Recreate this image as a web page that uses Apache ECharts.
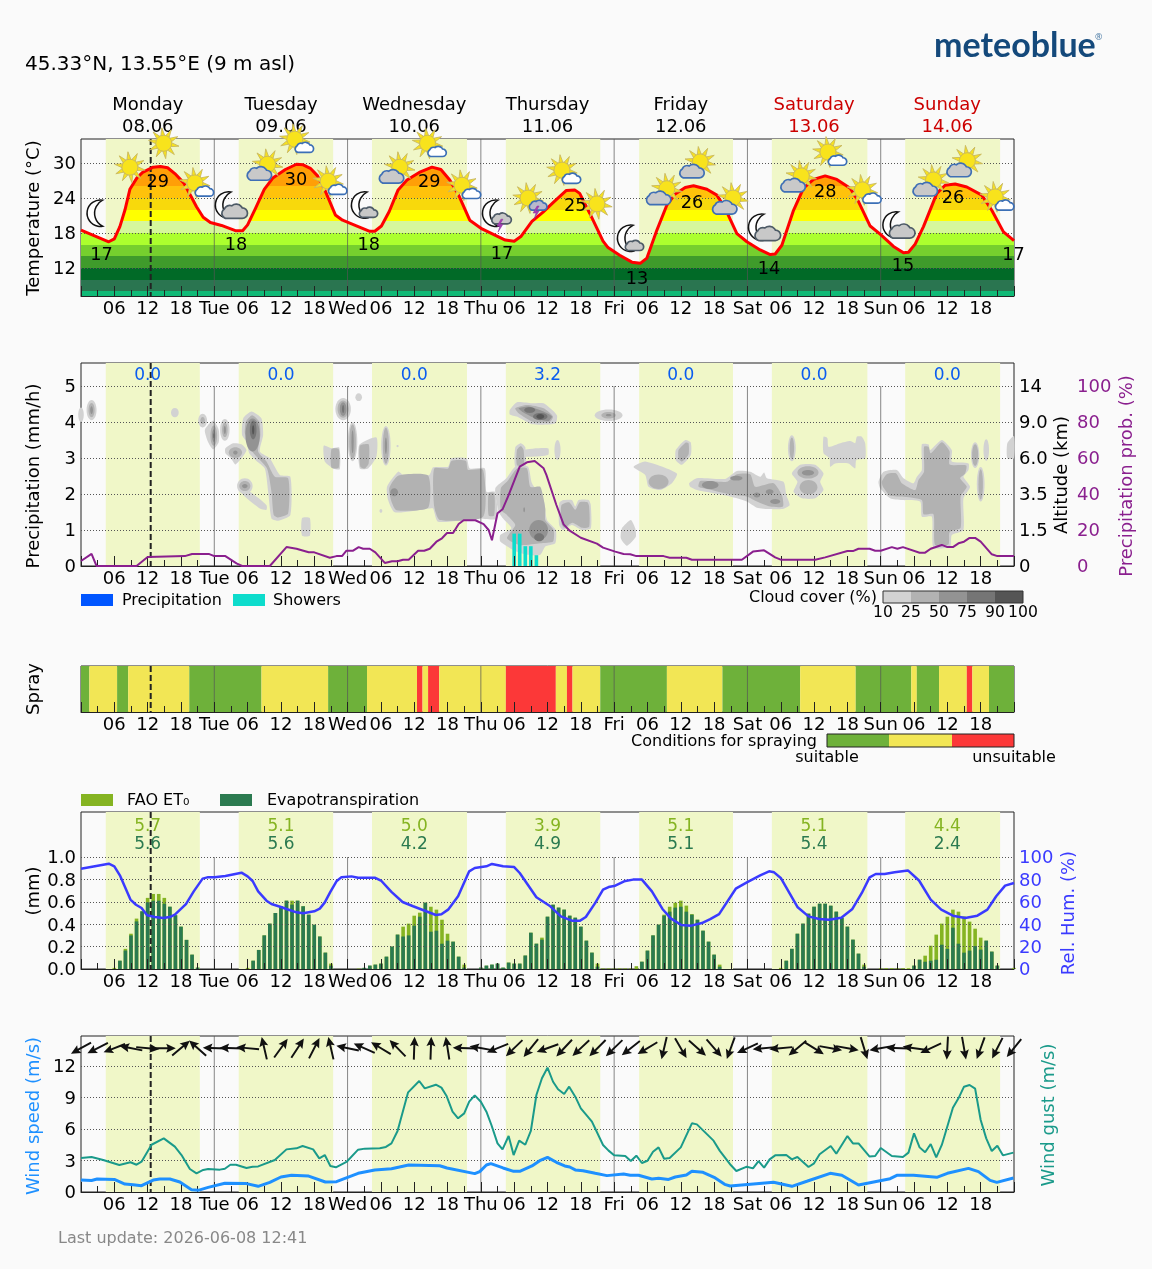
<!DOCTYPE html>
<html>
<head>
<meta charset="utf-8">
<title>meteoblue agriculture meteogram</title>
<style>
html,body{margin:0;padding:0;background:#fafafa}
#chart{width:1152px;height:1269px}
</style>
<script src="https://cdn.jsdelivr.net/npm/echarts@6/dist/echarts.min.js"></script>
</head>
<body>
<div id="chart"></div>
<script>
// ---- time axis ----
const dayNames = ['Monday','Tuesday','Wednesday','Thursday','Friday','Saturday','Sunday'];
const dayDates = ['08.06','09.06','10.06','11.06','12.06','13.06','14.06'];
const dayShort = ['Mon','Tue','Wed','Thu','Fri','Sat','Sun'];
const dayStarts = [24,48,72,96,120,144];
const nowHour = 12.55;
const daylightStart = [4.46,28.4,52.4,76.5,100.5,124.4,148.4];
const daylightEnd = [21.4,45.4,69.5,93.5,117.4,141.6,165.5];

// ---- temperature (hour, deg C) ----
const tempHours = [0,5,6,7,7.9,8.8,10.1,11.1,13,14.3,15.6,16.9,18.5,19.8,20.8,22,23.3,25.3,27.8,29.1,30,31.4,33,34.6,36.8,38.8,40,41.3,42.6,43.9,45.8,47.1,49.7,52,52.9,54.1,55.5,57.1,58.7,60.9,63.2,64.8,66.4,68,70,72.2,76.4,78,79.2,81.2,83.2,85,87.4,88.9,89.8,91.6,94,94.9,97,99.2,100.7,101.9,103.7,105.5,107,108.8,110.3,112.7,114.5,116,118.1,119.9,122.3,124.1,125,126.2,128.3,130.1,131.9,134,136.1,138.5,140,142.1,143.9,146.3,148.1,149,150.2,151.7,154.1,155.6,157.4,159.5,162.2,164,166.1,168];
const tempValues = [18.5,16.5,17,19.1,21.9,25.5,27.5,28.4,29.3,29.4,29.2,28.2,26.6,24.3,22.5,20.7,19.8,19.3,18.4,18.4,19.4,22.2,25.5,27.5,28.9,29.8,29.7,29.1,27.8,25.4,21.1,20.2,19.2,18.3,18.3,19.2,21.7,25.4,27.1,28.4,29.3,28.9,27.1,24.5,20.2,18.7,16.8,16.6,17.4,20,21.6,23.2,25.3,25.4,24.8,21.4,16.6,15.5,14.2,13,12.8,13.7,18.5,22.8,24.7,25.8,26.1,25.5,24.5,22.2,17.9,16.5,15.1,14.3,14.4,15.9,21.9,25.7,27.2,27.8,27.2,25.7,23.4,19.2,17.8,15.7,14.6,14.7,16.1,19.1,24.8,26.2,26.4,25.9,24.5,21.9,18.2,16.7];
const tempBandLimits = [8,10,12,14,16,18,20,22,24,26];
const tempBandColors = ['#10b976','#2a7550','#016a27','#3f9b2b','#76cf2e','#acff2e','#d6f79c','#ffff00','#f8d90c','#ffc20b','#ff9f07'];
const tempTicks = [12,18,24,30];
const tempLabelHours = [13.8,38.7,62.7,89,110,134,157,3.7,27.9,51.8,75.8,100.1,123.9,148,167.9];
const tempLabelSeats = [26.75,27.1,26.6,22.6,23.1,25,24,14.2,15.9,15.8,14.4,10.1,11.7,12.2,14.1];
const tempLabelValues = [29,30,29,25,26,28,26,17,18,18,17,13,14,15,17];

// ---- weather pictograms (hour, deg C seat, kind) ----
const iconHours = [2.8,8.8,14.9,20.5,25.9,33.6,38.5,44.5,50.4,57.4,62.4,68.6,74,80.5,86.6,92.9,98.3,105.5,111.5,117.4,121.9,129.7,134.5,140.7,146.1,153.5,159.6,164.6];
const iconSeats = [21.4,29.3,33.4,26.6,22.8,29.8,34.1,26.9,22.8,29.3,33.4,26.2,21.4,24,28.8,23,17.1,25.6,30.2,24,19,27.8,31.9,25.4,19.4,27.1,30.4,24.2];
const iconKinds = ['m','s','s','sw','mc','sg','sw','sw','ms','sg','sw','sw','mt','st','sw','s','ms','sg','sg','sg','mc','sg','sw','sw','mc','sg','sg','sw'];

// ---- precipitation ----
const showerHours = [78,79,80,81,82];
const showerValues = [0.9,0.9,0.55,0.55,0.3];
const dayPrecip = ['0.0','0.0','0.0','3.2','0.0','0.0','0.0'];
const probHours = [0,1.9,2.8,10,12,18.7,20,23,24,26,28,29,34,37,38.8,41,42,44.8,46,47,47.8,49,50,50.8,52,53,54.7,56,57,58,59,60.7,61.8,62.8,64,65,65.9,67,68,68.9,71,72.5,73.4,74,75,75.9,77,79,80.3,81.7,83.3,83.8,85.6,86.9,88,90,92.9,94,96.2,97.7,98.9,100,104.9,106,109,110,119,121,123,125,126,132.2,134,138,139,140,142,143,144,146,147,148,151,152,153,155,156,157,158,159,160,161,162,164,165,168];
const probValues = [2.8,6.7,0,0,5,5.5,6.7,6.7,5.5,5.5,1.5,0,0,10.5,9.6,7.6,7.6,4.6,5.5,5.5,8.5,8.5,10.5,9.6,9.6,7.6,1.7,2.6,2.6,3.5,3.5,8.5,8.5,9.6,13.5,15.4,18.3,18.3,23.3,25.4,25.4,23.3,20,14.3,29.3,31.5,39.4,55.2,57.6,58.3,54.3,50.6,33.9,23.1,19.6,15.7,12.4,10.2,8,6.7,6.5,5.5,5.5,4.6,4.6,3.5,3.5,8,8.7,4.8,3.5,3.5,4.8,8.3,8.3,9.6,9.6,8.5,8.5,10.5,9.6,10.5,7.4,7.4,9.6,11.7,10.5,10.5,12.6,13.5,15.6,15.6,13.5,6.5,5.5,5.5];
const altitudeTicks = ['0','1.5','3.5','6.0','9.0','14'];
const precipTicks = [0,1,2,3,4,5];
const probTicks = [0,20,40,60,80,100];

// ---- cloud cover by height: outlines are [level, hour, height, hour, height, ...] ----
const cloudLevelColors = ['#d2d2d2','#b2b2b2','#939393','#757575','#555555'];
const cloudOutlines = [
 [1,22.3,3.78,23.8,4.04,24.8,3.78,24.8,3.44,23.8,3.24,22.9,3.44],
 [1,26,3.27,27.4,3.41,28.9,3.38,29.8,3.22,28.9,2.99,27.8,2.82,27,2.99,26,3.13],
 [1,29.2,4.1,30.7,4.29,32.5,4.1,32.8,3.64,32.2,3.18,34,2.99,35.8,2.53,37.7,2.48,37.7,1.42,35.5,1.26,34.3,1.32,33.7,2.06,33.1,2.71,31.6,2.92,30.3,3.13,29.8,3.45,29,3.64],
 [2,29.7,4.01,30.8,4.19,32.1,4.01,32.3,3.64,31.9,3.18,33.4,2.9,34.9,2.48,37.3,2.44,37.3,1.46,35.5,1.35,34.7,1.42,34.3,2.06,33.5,2.71,31.6,3.04,30.4,3.27,30.1,3.55,29.5,3.69],
 [1,28.3,2.16,30.4,2.06,33.4,1.69,33.4,1.56,32.2,1.6,29.5,1.93],
 [1,39.8,1.33,41.2,1.33,41.2,0.84,39.8,0.84],
 [1,43.7,3.34,45.1,3.27,46.5,3.29,46.6,2.69,45.4,2.71,43.9,2.9],
 [2,45.1,3.25,46.4,3.25,46.4,2.73,45.1,2.73],
 [1,50.1,3.36,53.2,3.57,53.2,3.04,51.7,2.71,50.2,2.71],
 [2,50.2,3.34,51.8,3.38,51.8,2.85,51.1,2.71,50.3,2.76],
 [1,55.1,2.2,57.1,2.62,58,2.53,62.7,2.53,63.4,2.74,66.1,2.76,66.7,2.99,69.4,2.99,70,2.71,72.7,2.71,73,2.06,74.5,2.06,74.9,1.32,71.5,1.32,64.3,1.23,63.4,1.6,62.8,1.6,56.5,1.49,55.3,1.83],
 [2,55.5,2.16,57.1,2.51,62.5,2.51,62.5,1.62,56.8,1.55,55.9,1.79],
 [2,63.6,2.71,66.1,2.71,66.7,2.92,69.3,2.92,69.7,2.67,72.4,2.67,72.4,1.37,64.6,1.28,63.6,1.65],
 [2,73.4,2.02,74.4,2.02,74.4,1.4,73.4,1.4],
 [1,74.6,2.16,76.6,2.44,78.2,2.76,80.5,2.76,81.2,2.3,83.3,1.83,83.9,1.28,85.5,1,85.4,0.63,83.6,0.54,82.7,0.31,80.3,0.31,77.9,0.44,75.5,0.68,75.5,0.86,77.5,1.05,76,1.32,75.2,1.51],
 [2,75.6,2.16,76.8,2.36,78.5,2.71,80.3,2.71,80.9,2.2,82.7,2.2,83.6,1.6,83.6,1.28,85.1,1,85,0.68,82.7,0.63,79,0.58,76.7,0.77,78.2,1.14,76.7,1.42,75.6,1.56],
 [1,78.2,2.76,78.2,3.3,79.2,3.41,80,3.3,80,2.76],
 [2,78.5,2.8,78.5,3.22,79.2,3.33,79.7,3.22,79.7,2.8],
 [1,79.7,3.22,84.1,3.27,84.1,3.08,79.7,3.04],
 [1,77.2,4.33,78.5,4.55,81.2,4.52,83.3,4.52,85.7,4.19,85.4,3.96,81.2,3.94,78.5,4.15,77.2,4.21],
 [2,78.2,4.38,80.3,4.47,83.3,4.38,85,4.15,84.4,4,81.4,4,78.8,4.24],
 [3,78.8,4.38,80.6,4.43,83.3,4.29,84.8,4.15,84.2,4.03,81.8,4.1,79.6,4.27],
 [1,86.1,1.74,86.8,1.83,88.4,1.83,89,1.65,89.6,1.83,91.4,1.83,91.8,1.69,91.8,1.05,90.2,1,88.4,1.14,86.8,1,86.1,1.14],
 [2,86.5,1.69,87.9,1.77,89,1.56,89.8,1.77,91.2,1.77,91.5,1.65,91.5,1.09,90.2,1.06,88.5,1.2,87,1.06,86.5,1.19],
 [1,97.4,1.05,99,1.28,99.8,1.05,99.9,0.81,98.3,0.56,97.2,0.77],
 [1,107.1,3.22,108.8,3.5,109.8,3.43,109.8,3.08,108.2,2.81,107.1,2.94],
 [2,107.6,3.22,108.9,3.43,109.4,3.41,109.4,3.1,108.2,2.9,107.6,2.99],
 [1,99.5,2.75,101.6,2.9,107.3,2.57,106.4,2.3,104.3,2.11,102.2,2.2,101.6,2.53],
 [1,109.5,2.3,110.9,2.44,116,2.42,118.1,2.64,120.5,2.62,122.3,2.48,123,2.6,123.5,2.44,126.5,2.34,127,1.97,127.6,1.69,126.2,1.58,124.1,1.58,121.7,1.62,119.9,1.79,116.9,1.93,110.9,2.11,109.7,2.2],
 [2,111.5,2.36,116.3,2.34,118.1,2.55,120.5,2.55,121.4,2.2,124.7,2.3,126.2,1.97,126.4,1.65,124.1,1.65,121.7,1.79,119.9,1.93,117.5,1.97,112.7,2.14,111.2,2.2],
 [1,133.7,3.59,134.4,3.55,134.6,3.31,136.7,3.41,138.5,3.47,139.4,3.41,139.7,3.59,140.6,3.59,141.2,3.41,141.2,2.99,139.6,2.94,139.4,2.71,138.2,2.85,135.8,2.85,134.9,2.76,134.8,2.99,133.7,3.13],
 [1,128,2.57,129.5,2.81,132.2,2.81,133.7,2.57,133.1,2.34,133.7,2.11,132.2,1.88,129.8,1.88,128.3,2.06,129,2.34],
 [1,143.6,2.34,144.5,2.62,146.9,2.67,148.1,2.44,149.9,2.3,150.5,2.48,151.4,2.67,151.4,3.38,152.6,3.38,152.9,3.22,155,3.5,156.8,3.22,156.8,2.9,159.8,2.85,159.8,2.67,158.9,2.48,160.1,2.2,158.9,1.88,158.9,1,156.8,0.86,156.5,0.54,153.5,0.51,153.2,1.37,151.4,1.37,151.1,1.79,147.8,1.83,145.7,1.88,143.9,2.16],
 [2,144.2,2.34,145.1,2.55,146.8,2.57,147.8,2.3,150.2,2.11,150.8,2.39,151.8,2.62,151.8,3.31,152.6,3.31,153,3.13,155,3.44,156.4,3.19,156.4,2.82,159.4,2.79,159.2,2.57,158.3,2.44,159.5,2.2,158.4,1.93,158.4,1.06,156.4,0.94,156.2,0.6,153.8,0.58,153.5,1.44,151.7,1.44,151.4,1.83,147.8,1.93,145.7,1.95,144.4,2.2],
 [1,166.8,3.41,168,3.61,168,2.99,166.8,2.99]
];
// Rounded patches: [level, hour, height, half-width in hours, half-height]
const cloudPatches = [
 [1,0,4.2,0.5,0.2],[1,1.9,4.33,0.9,0.28],[2,1.9,4.33,0.55,0.2],[3,1.9,4.33,0.25,0.11],
 [1,16.9,4.26,0.7,0.13],[1,21.9,4.04,0.8,0.19],[2,21.9,4.04,0.4,0.1],
 [2,23.9,3.62,0.6,0.28],[3,23.9,3.62,0.3,0.17],[4,23.9,3.62,0.12,0.07],
 [1,25.9,3.78,0.85,0.3],[2,25.9,3.78,0.5,0.2],[3,25.9,3.78,0.2,0.11],
 [2,27.8,3.15,1.2,0.15],[3,27.8,3.15,0.4,0.06],
 [3,30.9,3.64,1.3,0.46],[4,31,3.78,0.6,0.26],[5,31,3.78,0.2,0.13],
 [1,29.5,2.22,1.4,0.22],[2,29.5,2.22,1,0.14],[3,29.5,2.22,0.5,0.06],
 [1,47.2,4.36,1.4,0.31],[2,47.2,4.36,1,0.24],[3,47.2,4.36,0.6,0.19],[4,47.2,4.36,0.2,0.11],
 [1,50,4.69,0.6,0.11],
 [1,48.9,3.45,0.85,0.54],[2,48.9,3.45,0.6,0.48],[3,48.9,3.45,0.2,0.32],
 [1,54.9,3.34,0.85,0.55],[2,54.9,3.34,0.55,0.5],[3,54.9,3.34,0.2,0.23],
 [1,57,3.33,0.2,0.03],[1,54,1.53,0.25,0.05],[3,56.4,2.05,0.7,0.11],
 [3,82.4,1,1.7,0.28],[4,82.5,0.8,0.9,0.11],[3,79.8,1.56,0.15,0.07],
 [4,80.8,4.33,1,0.08],[4,82.7,4.15,1.3,0.1],[5,82.7,4.15,0.7,0.07],
 [1,85.8,3.22,0.55,0.28],
 [1,95,4.19,2.5,0.16],[2,95,4.19,1.3,0.09],[3,95,4.19,0.5,0.03],
 [2,104,2.34,1.8,0.2],
 [3,113.3,2.25,1.5,0.11],[3,118,2.44,1.1,0.065],[3,121.7,1.97,0.6,0.07],[3,124,2.06,0.7,0.07],[3,125,1.79,0.9,0.07],
 [1,128,3.27,0.7,0.36],[2,128,3.27,0.4,0.3],
 [2,130.9,2.6,1.9,0.17],[2,131,2.19,1.6,0.2],[3,130.9,2.59,1.1,0.075],
 [1,161,3.08,0.75,0.36],[2,161,3.08,0.55,0.3],[1,163,3.22,0.5,0.3],[1,162,2.27,0.7,0.48],[2,162,2.27,0.4,0.42]
];

// ---- spraying conditions: hour boundaries and class (0 suitable, 1 marginal, 2 unsuitable) ----
const sprayEnds = [1.5,6.5,8.5,19.5,32.5,44.5,51.5,60.5,61.5,62.5,64.5,76.5,85.5,87.5,88.5,93.5,105.5,115.5,129.5,139.5,149.5,150.5,154.5,159.5,160.5,163.5,168];
const sprayClass = [0,1,0,1,0,1,0,1,2,1,2,1,2,1,2,1,0,1,0,1,0,1,0,1,2,1,0];
const sprayColors = ['#6eb13a','#f2e655','#fc3838'];

// ---- evapotranspiration: runs of consecutive hours ----
const evapRunStart = [6,30,50,72,94,126,144,168];
const faoRuns = [
 [.01,.074,.18,.315,.45,.515,.635,.67,.67,.635,.556,.48,.378,.26,.128,.012],
 [.01,.074,.17,.30,.405,.50,.56,.61,.61,.61,.56,.485,.395,.29,.146,.048],
 [.004,.01,.03,.039,.048,.11,.2,.307,.378,.405,.476,.503,.592,.556,.53,.44,.315,.244,.11,.039],
 [.012,.03,.039,.048,.012,.057,.048,.048,.12,.324,.226,.28,.467,.574,.548,.53,.476,.458,.378,.253,.146,.048],
 [.005,.005,.005,.005,.005,.005,.025,.065,.164,.30,.396,.485,.556,.592,.61,.566,.49,.44,.342,.244,.128,.039],
 [.01,.074,.18,.315,.405,.494,.556,.583,.583,.565,.512,.458,.378,.262,.137,.039],
 [.007,.007,.007,.007,.007,.007,.03,.083,.119,.208,.307,.405,.467,.53,.512,.47,.423,.36,.28,.253,.155,.03],
 [.01]
];
const etRuns = [
 [0,.074,.165,.30,.425,.515,.595,.61,.61,.583,.556,.48,.378,.26,.128,.012],
 [0,.074,.17,.30,.405,.50,.56,.61,.575,.61,.56,.485,.395,.29,.146,.03],
 [0,.01,.03,.039,.048,.11,.2,.307,.29,.30,.387,.467,.592,.333,.342,.226,.253,.244,.11,.012],
 [.012,.03,.039,.048,.012,.057,.048,.048,.12,.324,.226,.262,.467,.574,.548,.53,.476,.458,.378,.253,.146,.021],
 [0,0,0,0,0,0,0,.065,.164,.30,.396,.476,.512,.548,.556,.512,.485,.44,.342,.244,.128,.021],
 [0,.074,.18,.315,.405,.494,.556,.583,.583,.565,.512,.458,.378,.262,.137,.021],
 [0,0,0,0,0,0,.03,.083,.065,.074,.083,.217,.18,.369,.226,.146,.164,.205,.173,.253,.155,.03],
 [0]
];
const dayFao = ['5.7','5.1','5.0','3.9','5.1','5.1','4.4'];
const dayEt = ['5.6','5.6','4.2','4.9','5.1','5.4','2.4'];
const evapTicks = [0,0.2,0.4,0.6,0.8,1];
const humidityTicks = [0,20,40,60,80,100];
const humidityHours = [0,5,6,7,8.9,9.9,10.9,11.9,13.3,14.8,16,16.9,18.9,20.3,21.9,22.9,24,26,28.9,30,30.9,31.9,33.4,34.3,36,37,38.8,40,42,43,43.9,44.9,46,46.9,48.7,49.9,52.9,54.1,55.9,57.9,59.8,63.9,64.9,66.1,67,67.9,69.9,70.9,73,74,76,78,79,82,84.5,86.4,88.5,89.8,90.9,92.6,94,95,96.2,97.8,99.4,101,102.8,104.7,106.2,108.1,109.9,111.8,113.3,114.9,117.9,119.9,122.3,123.9,124.8,126,129,131,132.9,134.7,136.9,138.9,140.6,142,143.1,144.7,146.5,148.9,150.9,153,154.9,157,159.2,161.4,163.2,164.8,166.4,168];
const humidityValues = [89.6,94,91.7,83.6,62,57.4,54.5,48,46.4,45.5,46.4,48.5,58,69.3,80.7,82,82,83,86,82.7,78.6,69.3,61,58,55.4,53.6,50.6,49.7,51.5,53.9,59.5,68.8,78.3,82,82.7,81.5,81.5,78.6,68.8,59.8,56,48.2,48.8,53,59,65,87.2,90.2,91.7,93.8,91.7,91,85.7,64,56,47,43,43,46.4,59,70.8,73.2,74.4,78.3,79.8,79.8,69.3,53.6,45.2,39.3,38.7,41,44.6,49,71.7,77.4,83.6,87.2,86.3,81.3,55.4,47,44.6,44,45.8,53.6,67.9,81.8,84.8,84.8,86.3,88,79,62,53,47.6,45.5,47.6,53,65,74.4,76.8];

// ---- wind ----
const windTicks = [0,3,6,9,12];
const speedHours = [0,1.9,2.9,6,7.9,9.4,10.9,13,14.2,16,17.8,19.9,21.1,22.9,25.9,29.8,31.9,34,36,37.9,41,44,46,49.9,52.9,55.9,59,64.6,65.9,70.9,71.8,73,73.8,76,77.9,79,81.2,82.6,84,85.6,87.1,88,89,90.4,92.6,94.7,97.7,98.9,100.4,102.8,104,105.8,107,109,110,112,114,115.9,116.9,124.7,128,130.7,134.9,137,140,145.7,146.9,149.9,154.1,156,159.8,161.6,163.7,164.9,167.9];
const speedValues = [1.14,1.1,1.24,1.2,.76,.7,.6,1.14,1.24,1.24,.95,.22,.16,.44,.83,.8,.54,.92,1.43,1.6,1.52,.95,.98,1.78,2.1,2.22,2.57,2.5,2.29,1.75,1.94,2.57,2.7,2.29,1.97,1.97,2.48,2.98,3.3,2.83,2.48,2.38,2.1,2.03,1.78,1.56,1.71,1.59,1.59,1.24,1.3,1.2,1.43,1.62,1.97,1.87,1.4,.73,.57,.92,.54,1.02,1.78,1.59,.67,1.27,1.59,1.59,1.4,1.78,2.25,1.94,1.11,.92,1.33];
const gustHours = [0,1.9,4,6.9,8.9,10,10.9,12.7,14.9,16.9,18.1,19.6,20.8,22,22.9,25,25.9,26.9,27.9,29.8,30.9,31.9,34.9,37,38.8,39.9,41.8,42.9,43.9,44.9,45.9,47.8,49.9,51.1,53.8,54.9,55.9,57,58.9,60.9,61.9,63.9,64.9,65.8,66.9,67.9,69,69.9,70.9,72,73,73.9,75,75.9,77,77.9,78.9,80,81,82,83,84,85,85.9,87,87.9,89,90,92,94,95,96,98,99,100,101,102,103,104,105,106,108,110,110.9,113.9,115,117,118,119.9,121,122,123,124,125,127,128,129,131,132,133,135,136,138,139,140,142,143,144,146,148,149,150,151,152,153,154,155,157,158,159,160,161,162,163,164,165,166,167.9];
const gustValues = [3.24,3.33,3.05,2.57,2.83,2.6,2.89,4.5,5.11,4.32,3.52,2.19,1.78,2.1,2.19,2.13,2.22,2.6,2.6,2.29,2.41,2.44,3.05,4.06,4.16,4.38,4.06,3.2,3.52,2.48,2.35,2.86,4.03,4.13,4.16,4.29,4.63,5.81,9.49,10.57,9.87,10.22,9.94,9.17,7.65,7.02,7.49,8.6,9.2,8.6,7.65,6.38,4.63,4.06,5.33,3.52,4.89,4.5,5.81,9.24,10.83,11.84,10.5,9.78,9.33,10.03,9.08,7.97,6.7,4.48,3.94,3.49,3.43,2.95,3.46,2.76,2.98,3.84,4.25,3.17,3.24,4.25,6.54,6.44,4.89,3.94,2.57,2,2.41,2.25,2.95,2.32,3.11,3.49,3.52,3.11,3.33,2.38,2.73,3.59,4.38,3.65,5.33,4.63,4.63,3.37,3.43,4.19,3.43,3.33,3.75,5.59,4.25,3.78,4.57,3.3,4.48,8.03,8.92,10.03,10.19,9.84,6.86,5.11,3.9,4.41,3.49,3.75];
// Compass bearing the arrow points to, one every three hours starting at hour 0
const windArrowBearing = [241,243,249,281,95,90,50,312,272,272,275,347,36,33,27,347,282,294,301,316,2,2,351,272,280,248,226,219,250,223,227,225,226,232,239,193,150,132,139,200,245,265,265,230,122,100,100,163,260,272,278,245,183,170,200,207,219];
const windArrowSeat = 13.7;

// ---- shared styling ----
const FONT = '"DejaVu Sans", sans-serif';
const TICK_SIZE = 18;
const LEGEND_SIZE = 16;
const pair = (xs, ys) => xs.map((x, i) => [x, ys[i]]);
const gridBoxes = [[139,157],[363,203],[666,46],[812,157],[1036,156]];
const pad2 = v => (v < 10 ? '0' : '') + v;

const grids = gridBoxes.map(b => ({
  left: 81, width: 933, top: b[0], height: b[1], show: true,
  borderColor: '#222', borderWidth: 1, backgroundColor: 'transparent'
}));
const xAxes = gridBoxes.map((b, i) => ({
  type: 'value', gridIndex: i, min: 0, max: 168, interval: 6, z: 6,
  axisLine: {show: true, onZero: false, lineStyle: {color: '#222', width: 1}},
  axisTick: {show: true, inside: true, length: 10, lineStyle: {color: '#222', width: 1}},
  minorTick: {show: true, splitNumber: 2, length: 6, lineStyle: {color: '#222', width: 1}},
  splitLine: {show: false},
  axisLabel: {
    color: '#000', fontFamily: FONT, fontSize: TICK_SIZE, margin: 4, hideOverlap: false,
    showMinLabel: false, showMaxLabel: false,
    formatter: v => (v % 24 === 0 ? dayShort[v / 24] || '' : pad2(v % 24))
  }
}));
// Top-aligned with a pulled-up padding so digits sit centred a little under their gridline
const tickLabelStyle = (ticks, color, fmt, extra) => Object.assign({
  show: true, customValues: ticks, color, fontFamily: FONT, fontSize: TICK_SIZE, margin: 5,
  verticalAlign: 'top', padding: [-7.3, 0, 0, 0], formatter: fmt
}, extra || {});
function valueAxis(grid, min, max, ticks, extra) {
  return Object.assign({
    type: 'value', gridIndex: grid, min, max, z: 3,
    axisLine: {show: false},
    axisTick: {show: false, customValues: ticks},
    splitLine: {show: true, lineStyle: {type: [1, 2], color: '#555', width: 1}},
    axisLabel: tickLabelStyle(ticks, '#000', v => String(v))
  }, extra || {});
}
const rightAxis = (grid, min, max, ticks, color, offset, fmt) => valueAxis(grid, min, max, ticks, {
  position: 'right', offset,
  splitLine: {show: false},
  axisLabel: tickLabelStyle(ticks, color, fmt, {align: 'left'})
});
const PRECIP_TOP = 203 / 36;
const EVAP_TOP = 157 / 112;
const yAxes = [
  valueAxis(0, 7.197, 34.13, tempTicks),
  valueAxis(1, 0, PRECIP_TOP, precipTicks),
  rightAxis(1, 0, PRECIP_TOP, precipTicks, '#000', 0, v => altitudeTicks[v]),
  rightAxis(1, 0, PRECIP_TOP * 20, probTicks, '#8a1f8e', 58, v => String(v)),
  {type: 'value', gridIndex: 2, min: 0, max: 1, show: false, splitLine: {show: false}},
  valueAxis(3, 0, EVAP_TOP, evapTicks, {axisLabel: tickLabelStyle(evapTicks, '#000', v => v.toFixed(1))}),
  rightAxis(3, 0, EVAP_TOP * 100, humidityTicks, '#3a3aff', 0, v => String(v)),
  valueAxis(4, 0, 156 / 10.5, windTicks)
];

// ---- panel furniture: daylight bands, day rules and the current-time marker ----
function daylightSeries(xi, yi) {
  return {
    type: 'custom', xAxisIndex: xi, yAxisIndex: yi, z: 1, silent: true,
    data: pair(daylightStart, daylightEnd),
    encode: {x: 0},
    renderItem(params, api) {
      const a = api.coord([api.value(0), 0])[0], b = api.coord([api.value(1), 0])[0];
      const c = params.coordSys;
      return {type: 'rect', shape: {x: a, y: c.y, width: b - a, height: c.height}, style: {fill: '#f0f7c8'}};
    }
  };
}
function ruleSeries(xi, yi, topValue) {
  const data = dayStarts.map(h => [h, topValue, 0]).concat([[nowHour, null, 1]]);
  return {
    type: 'custom', xAxisIndex: xi, yAxisIndex: yi, z: 4, silent: true,
    data, encode: {x: 0},
    renderItem(params, api) {
      const c = params.coordSys, x = api.coord([api.value(0), 0])[0];
      const isNow = api.value(2) === 1;
      const yTop = isNow || topValue == null ? c.y : api.coord([0, topValue])[1];
      return {
        type: 'line', z2: isNow ? 2 : 1,
        shape: {x1: x, y1: yTop, x2: x, y2: c.y + c.height},
        style: isNow ? {stroke: '#222', lineWidth: 2, lineDash: [6, 3]}
                     : {stroke: 'rgba(85,85,85,0.7)', lineWidth: 1}
      };
    }
  };
}
function textMarks(xi, yi, hours, seats, texts, color, size, z) {
  return {
    type: 'scatter', xAxisIndex: xi, yAxisIndex: yi, z: z || 9, silent: true, clip: false,
    symbolSize: 1, itemStyle: {color: 'transparent', opacity: 1},
    data: hours.map((h, i) => [h, seats[i], texts[i]]),
    label: {show: true, position: 'inside', color, fontFamily: FONT, fontSize: size, opacity: 1, formatter: p => String(p.data[2])}
  };
}

// ---- pictograms ----
const CLOUD = 'M-8,7 A5,5 0 0 1 -9,-2 A5.5,5.5 0 0 1 -2,-5 A6.5,6.5 0 0 1 8,-3 A5,5 0 0 1 8,7 Z';
const MOON = 'M6,-13 A13.2,13.2 0 1 0 6,13 A14.6,14.6 0 0 1 6,-13 Z';
const BOLT = 'M1,-6 L-3,1 L0,1 L-2,7 L3,-1 L0,-1 L3,-6 Z';
function sunParts() {
  const parts = [], sunStyle = {fill: '#f8e31c', stroke: '#c8b860', lineWidth: 0.9};
  for (let i = 0; i < 10; i++) {
    const t = (i + 0.3) * Math.PI / 5, c = Math.cos(t), s = Math.sin(t);
    parts.push({type: 'polygon', shape: {points: [
      [7.5 * c - 2 * s, 7.5 * s + 2 * c],
      [15.5 * c, 15.5 * s],
      [7.5 * c + 2 * s, 7.5 * s - 2 * c]
    ]}, style: sunStyle});
  }
  parts.push({type: 'circle', shape: {cx: 0, cy: 0, r: 8}, style: sunStyle});
  return parts;
}
const cloudPart = (dx, dy, k, fill, stroke) => ({
  type: 'path', x: dx, y: dy, scaleX: k, scaleY: k, shape: {pathData: CLOUD},
  style: {fill, stroke, lineWidth: 1.7 / k}
});
const moonPart = () => ({type: 'path', shape: {pathData: MOON}, style: {fill: '#fff', stroke: '#111', lineWidth: 1.5}});
const boltPart = (dx, dy) => ({type: 'path', x: dx, y: dy, shape: {pathData: BOLT}, style: {fill: '#a63fb6', stroke: '#8a3098', lineWidth: 0.5}});
const iconBuilders = {
  m: () => [moonPart()],
  s: () => sunParts(),
  sw: () => sunParts().concat(cloudPart(9, 8, 0.75, '#fff', '#3b6fb6')),
  sg: () => sunParts().concat(cloudPart(-9, 9, 1, '#c9c9c9', '#3f6fb5')),
  mc: () => [moonPart(), cloudPart(9, 6, 1.05, '#c8c8c8', '#4d5a66')],
  ms: () => [moonPart(), cloudPart(7, 7, 0.75, '#c8c8c8', '#4d5a66')],
  mt: () => [moonPart(), cloudPart(9, 5, 0.8, '#c8c8c8', '#4d5a66'), boltPart(8, 12)],
  st: () => sunParts().concat(cloudPart(9.5, 7, 0.72, '#b9b9cc', '#3f6fb5'), boltPart(8, 14))
};

// Cloud patches are painted lowest level first so denser cores sit on top
const cloudShapes = cloudOutlines.map(o => ({level: o[0], pts: o.slice(1)}))
  .concat(cloudPatches.map(p => ({level: p[0], oval: p.slice(1)})))
  .sort((a, b) => a.level - b.level);

const hourly = (starts, runs) => starts.flatMap((s, i) => runs[i].map((v, k) => [s + k, v]));
const hoursOfDayNoon = dayNames.map((_, d) => d * 24 + 12);

const series = [
  // temperature fill, coloured in 2-degree bands by the visualMap below
  {
    type: 'line', xAxisIndex: 0, yAxisIndex: 0, z: 2, silent: true, showSymbol: false,
    data: pair(tempHours, tempValues),
    lineStyle: {width: 0},
    areaStyle: {opacity: 1, origin: 'start'}
  },
  daylightSeries(0, 0),
  ruleSeries(0, 0, null),
  {
    type: 'line', xAxisIndex: 0, yAxisIndex: 0, z: 5, silent: true, showSymbol: false,
    data: pair(tempHours, tempValues),
    lineStyle: {color: '#ff0000', width: 3, join: 'round'}
  },
  {
    type: 'custom', xAxisIndex: 0, yAxisIndex: 0, z: 7, silent: true, clip: false,
    data: iconHours.map((h, i) => [h, iconSeats[i]]), encode: {x: 0, y: 1},
    renderItem(params, api) {
      const p = api.coord([api.value(0), api.value(1)]);
      return {type: 'group', x: p[0], y: p[1], children: iconBuilders[iconKinds[params.dataIndex]]()};
    }
  },
  textMarks(0, 0, tempLabelHours, tempLabelSeats, tempLabelValues, '#000', 17.7),

  // precipitation panel
  daylightSeries(1, 1),
  {
    type: 'custom', xAxisIndex: 1, yAxisIndex: 1, z: 2, silent: true,
    data: cloudShapes.map((s, i) => [i, 0]), encode: {x: 0},
    renderItem(params, api) {
      const s = cloudShapes[params.dataIndex], fill = cloudLevelColors[s.level - 1];
      if (s.oval) {
        const c = api.coord([s.oval[0], s.oval[1]]), r = api.size([s.oval[2], s.oval[3]]);
        return {type: 'ellipse', shape: {cx: c[0], cy: c[1], rx: r[0], ry: r[1]}, style: {fill}};
      }
      const points = [];
      for (let k = 0; k < s.pts.length; k += 2) points.push(api.coord([s.pts[k], s.pts[k + 1]]));
      return {type: 'polygon', shape: {points, smooth: 0.2}, style: {fill}};
    }
  },
  ruleSeries(1, 1, 5),
  {
    type: 'bar', xAxisIndex: 1, yAxisIndex: 1, z: 5, silent: true, barWidth: 3.6,
    data: pair(showerHours, showerValues), itemStyle: {color: '#0ddccc'}
  },
  {
    type: 'line', xAxisIndex: 1, yAxisIndex: 3, z: 6, silent: true, showSymbol: false,
    data: pair(probHours, probValues), lineStyle: {color: '#8a1f8e', width: 2}
  },
  textMarks(1, 1, hoursOfDayNoon, dayNames.map(() => 5.28), dayPrecip, '#0a5cf0', 17),

  // spraying window
  {
    type: 'custom', xAxisIndex: 2, yAxisIndex: 4, z: 2, silent: true,
    data: sprayEnds.map((e, i) => [i ? sprayEnds[i - 1] : 0, e, sprayClass[i]]), encode: {x: 0},
    renderItem(params, api) {
      const a = api.coord([api.value(0), 0])[0], b = api.coord([api.value(1), 0])[0], c = params.coordSys;
      return {type: 'rect', shape: {x: a, y: c.y, width: b - a, height: c.height}, style: {fill: sprayColors[api.value(2)]}};
    }
  },
  ruleSeries(2, 4, null),

  // evapotranspiration and humidity
  daylightSeries(3, 5),
  {
    type: 'bar', xAxisIndex: 3, yAxisIndex: 5, z: 2, silent: true, barWidth: 3.6, barGap: '-100%',
    data: hourly(evapRunStart, faoRuns), itemStyle: {color: '#85b422'}
  },
  {
    type: 'bar', xAxisIndex: 3, yAxisIndex: 5, z: 2, silent: true, barWidth: 3.6, barGap: '-100%',
    data: hourly(evapRunStart, etRuns), itemStyle: {color: '#2b7a50'}
  },
  ruleSeries(3, 5, 1),
  {
    type: 'line', xAxisIndex: 3, yAxisIndex: 6, z: 6, silent: true, showSymbol: false,
    data: pair(humidityHours, humidityValues), lineStyle: {color: '#3a3aff', width: 2.5}
  },
  textMarks(3, 5, hoursOfDayNoon, dayNames.map(() => 1.27), dayFao, '#85b422', 17),
  textMarks(3, 5, hoursOfDayNoon, dayNames.map(() => 1.107), dayEt, '#2b7a50', 17),

  // wind
  daylightSeries(4, 7),
  ruleSeries(4, 7, null),
  {
    type: 'line', xAxisIndex: 4, yAxisIndex: 7, z: 5, silent: true, showSymbol: false,
    data: pair(gustHours, gustValues), lineStyle: {color: '#1a9a8a', width: 2}
  },
  {
    type: 'line', xAxisIndex: 4, yAxisIndex: 7, z: 6, silent: true, showSymbol: false,
    data: pair(speedHours, speedValues), lineStyle: {color: '#1e90ff', width: 3}
  },
  {
    type: 'scatter', xAxisIndex: 4, yAxisIndex: 7, z: 7, silent: true, clip: false,
    symbol: 'path://M5,0 L9.6,10 L6,8.6 L6,24 L4,24 L4,8.6 L0.4,10 Z', symbolSize: [9, 23],
    symbolRotate: (v, p) => -windArrowBearing[p.dataIndex],
    itemStyle: {color: '#111', opacity: 1},
    data: windArrowBearing.map((_, i) => [i * 3, windArrowSeat])
  }
];

// ---- free-standing text and legends ----
const label = (x, y, text, size, color, opts) => {
  const o = opts || {};
  const el = {
    type: 'text', x, y, silent: true,
    style: {text, fill: color || '#000', font: `${size}px ${FONT}`, align: o.align || 'left', verticalAlign: 'middle'}
  };
  if (o.rotate) el.rotation = Math.PI / 2;
  return el;
};
const sideLabel = (x, y, text, color) => label(x, y, text, TICK_SIZE, color, {rotate: true, align: 'center'});
const swatch = (x, y, w, h, fill, stroke) => ({type: 'rect', silent: true, shape: {x, y, width: w, height: h}, style: {fill, stroke: stroke || null, lineWidth: stroke ? 1 : 0}});

const cloudScaleStops = ['10','25','50','75','90','100'];
const graphics = [
  label(25, 65, '45.33°N, 13.55°E (9 m asl)', 20),
  {type: 'text', x: 934, y: 46, silent: true, style: {text: 'meteoblue', fill: '#14497b', font: '700 34px Lato, sans-serif', align: 'left', verticalAlign: 'middle'}},
  {type: 'text', x: 1095, y: 37, silent: true, style: {text: '®', fill: '#4a7aa5', font: '9px "Open Sans", sans-serif', align: 'left', verticalAlign: 'middle'}},
  sideLabel(34, 218, 'Temperature (°C)'),
  sideLabel(34, 476, 'Precipitation (mm/h)'),
  sideLabel(1062, 475, 'Altitude (km)'),
  sideLabel(1127, 476, 'Precipitation prob. (%)', '#8a1f8e'),
  sideLabel(34, 689, 'Spray'),
  sideLabel(34, 891, '(mm)'),
  sideLabel(1069, 913, 'Rel. Hum. (%)', '#3a3aff'),
  sideLabel(34, 1116, 'Wind speed (m/s)', '#1e90ff'),
  sideLabel(1049, 1115, 'Wind gust (m/s)', '#1a9a8a'),
  swatch(81, 594, 32, 12, '#0055ff'),
  label(122, 601, 'Precipitation', LEGEND_SIZE),
  swatch(233, 594, 32, 12, '#0ddccc'),
  label(273, 601, 'Showers', LEGEND_SIZE),
  label(877, 598, 'Cloud cover (%)', LEGEND_SIZE, '#000', {align: 'right'}),
  label(817, 742, 'Conditions for spraying', LEGEND_SIZE, '#000', {align: 'right'}),
  swatch(827, 734, 62, 13, sprayColors[0]),
  swatch(889, 734, 63, 13, sprayColors[1]),
  swatch(952, 734, 62, 13, sprayColors[2]),
  swatch(827, 734, 187, 13, 'none', '#222'),
  label(827, 758, 'suitable', LEGEND_SIZE, '#000', {align: 'center'}),
  label(1014, 758, 'unsuitable', LEGEND_SIZE, '#000', {align: 'center'}),
  swatch(81, 794, 32, 12, '#85b422'),
  label(127, 801, 'FAO ET₀', LEGEND_SIZE),
  swatch(220, 794, 32, 12, '#2b7a50'),
  label(267, 801, 'Evapotranspiration', LEGEND_SIZE),
  label(58, 1239, 'Last update: 2026-06-08 12:41', LEGEND_SIZE, '#888')
];
cloudLevelColors.forEach((c, i) => graphics.push(swatch(883 + i * 28, 591, 28, 12, c)));
graphics.push(swatch(883, 591, 140, 12, 'none', '#333'));
cloudScaleStops.forEach((t, i) => graphics.push(label(883 + i * 28, 613, t, 15.6, '#000', {align: 'center'})));
dayNames.forEach((d, i) => {
  const color = i >= 5 ? '#cc0000' : '#000', x = 147.8 + i * 133.25;
  graphics.push(label(x, 105.5, d, TICK_SIZE, color, {align: 'center'}));
  graphics.push(label(x, 127, dayDates[i], TICK_SIZE, color, {align: 'center'}));
});

const chart = echarts.init(document.getElementById('chart'), null, {renderer: 'canvas'});
chart.setOption({
  animation: false,
  backgroundColor: '#fafafa',
  textStyle: {fontFamily: FONT},
  grid: grids, xAxis: xAxes, yAxis: yAxes, series,
  visualMap: [{
    type: 'piecewise', show: false, seriesIndex: 0, dimension: 1,
    pieces: tempBandColors.map((color, i) => {
      const piece = {color};
      if (i > 0) piece.gt = tempBandLimits[i - 1];
      if (i < tempBandLimits.length) piece.lte = tempBandLimits[i];
      return piece;
    })
  }],
  graphic: graphics
});
</script>
</body>
</html>
